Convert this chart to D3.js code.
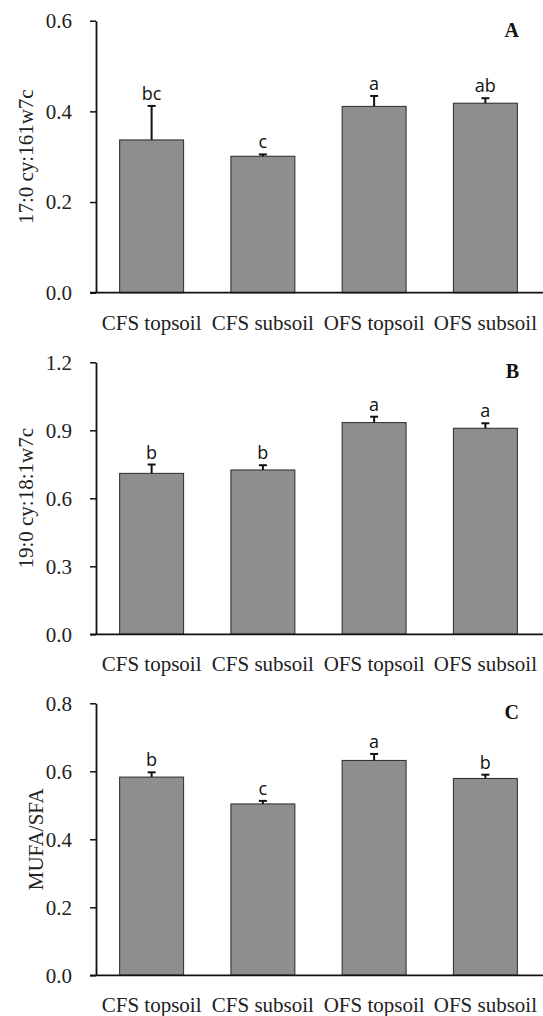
<!DOCTYPE html>
<html lang="en">
<head>
    <meta charset="UTF-8">
    <title>Fatty acid ratios by soil</title>
    <script src="https://d3js.org/d3.v7.min.js"></script>
    <style>
        body {
            margin: 0;
            padding: 0;
            background: #fff;
        }
        .tick text, .xlab {
            font-family: "Liberation Serif", "Times New Roman", serif;
            font-size: 21px;
            fill: #222;
        }
        .ytitle {
            font-family: "Liberation Serif", "Times New Roman", serif;
            font-size: 21px;
            fill: #222;
        }
        .panel-letter {
            font-family: "Liberation Serif", "Times New Roman", serif;
            font-size: 20px;
            font-weight: bold;
            fill: #111;
        }
        .sig {
            font-family: "Open Sans", "DejaVu Sans", sans-serif;
            font-size: 18px;
            fill: #111;
        }
    </style>
</head>
<body>
    <svg id="chart"></svg>

    <script>
        // Data
        const categories = ["CFS topsoil", "CFS subsoil", "OFS topsoil", "OFS subsoil"];

        const meansA = [0.337, 0.301, 0.411, 0.418];
        const errorsA = [0.075, 0.004, 0.023, 0.011];
        const lettersA = ["bc", "c", "a", "ab"];
        const ticksA = [0.0, 0.2, 0.4, 0.6];

        const meansB = [0.710, 0.725, 0.934, 0.909];
        const errorsB = [0.039, 0.021, 0.026, 0.022];
        const lettersB = ["b", "b", "a", "a"];
        const ticksB = [0.0, 0.3, 0.6, 0.9, 1.2];

        const meansC = [0.583, 0.504, 0.632, 0.579];
        const errorsC = [0.014, 0.009, 0.019, 0.011];
        const lettersC = ["b", "c", "a", "b"];
        const ticksC = [0.0, 0.2, 0.4, 0.6, 0.8];

        const titles = ["17:0 cy:161w7c", "19:0 cy:18:1w7c", "MUFA/SFA"];
        const panelLetters = ["A", "B", "C"];

        // Layout
        const W = 543, H = 1016;
        const plotLeft = 96, plotRight = 541;
        const plotH = 272;
        const panelTops = [20.7, 362.3, 703.3];
        const titleX = [33, 33, 43];

        const svg = d3.select("#chart")
            .attr("width", W)
            .attr("height", H);

        const panels = [
            { means: meansA, errors: errorsA, letters: lettersA, ticks: ticksA },
            { means: meansB, errors: errorsB, letters: lettersB, ticks: ticksB },
            { means: meansC, errors: errorsC, letters: lettersC, ticks: ticksC }
        ];

        const x = d3.scaleBand()
            .domain(categories)
            .range([plotLeft, plotRight])
            .paddingInner(0.425)
            .paddingOuter(0.2125);

        panels.forEach((p, i) => {
            const top = panelTops[i];
            const y = d3.scaleLinear()
                .domain([0, d3.max(p.ticks)])
                .range([top + plotH, top]);

            const g = svg.append("g");

            const rows = categories.map((c, j) => ({
                cat: c, mean: p.means[j], err: p.errors[j], letter: p.letters[j]
            }));

            // bars
            g.selectAll("rect.bar")
                .data(rows)
                .enter()
                .append("rect")
                .attr("class", "bar")
                .attr("x", d => x(d.cat))
                .attr("y", d => y(d.mean))
                .attr("width", x.bandwidth())
                .attr("height", d => y(0) - y(d.mean))
                .attr("fill", "#8e8e8e")
                .attr("stroke", "#2a2a2a")
                .attr("stroke-width", 1);

            // error bars (upper only)
            const cx = d => x(d.cat) + x.bandwidth() / 2;
            g.selectAll("line.err")
                .data(rows)
                .enter()
                .append("line")
                .attr("x1", cx).attr("x2", cx)
                .attr("y1", d => y(d.mean))
                .attr("y2", d => y(d.mean + d.err))
                .attr("stroke", "#111")
                .attr("stroke-width", 2);

            g.selectAll("line.cap")
                .data(rows)
                .enter()
                .append("line")
                .attr("x1", d => cx(d) - 4).attr("x2", d => cx(d) + 4)
                .attr("y1", d => y(d.mean + d.err))
                .attr("y2", d => y(d.mean + d.err))
                .attr("stroke", "#111")
                .attr("stroke-width", 2);

            // significance letters
            g.selectAll("text.sig")
                .data(rows)
                .enter()
                .append("text")
                .attr("class", "sig")
                .attr("x", cx)
                .attr("y", d => y(d.mean + d.err) - 6)
                .attr("text-anchor", "middle")
                .text(d => d.letter);

            // y axis
            const yAxis = g.append("g")
                .attr("transform", `translate(${plotLeft},0)`)
                .call(d3.axisLeft(y)
                    .tickValues(p.ticks)
                    .tickFormat(d3.format(".1f"))
                    .tickSize(6)
                    .tickSizeOuter(0)
                    .tickPadding(18));
            yAxis.select(".domain").attr("stroke", "#111").attr("stroke-width", 1.8);
            yAxis.selectAll(".tick line").attr("stroke", "#111").attr("stroke-width", 1.5);

            // x axis
            const xAxis = g.append("g")
                .attr("transform", `translate(0,${y(0)})`)
                .call(d3.axisBottom(x).tickSize(0).tickPadding(22));
            xAxis.select(".domain").remove();
            xAxis.selectAll(".tick text").attr("class", "xlab");

            g.append("line")
                .attr("x1", plotLeft - 6)
                .attr("x2", W)
                .attr("y1", y(0))
                .attr("y2", y(0))
                .attr("stroke", "#111")
                .attr("stroke-width", 1.8);

            // y title
            g.append("text")
                .attr("class", "ytitle")
                .attr("transform", `translate(${titleX[i]},${top + plotH / 2}) rotate(-90)`)
                .attr("text-anchor", "middle")
                .text(titles[i]);

            // panel letter
            g.append("text")
                .attr("class", "panel-letter")
                .attr("x", 519)
                .attr("y", top + 16)
                .attr("text-anchor", "end")
                .text(panelLetters[i]);
        });
    </script>
</body>
</html>
